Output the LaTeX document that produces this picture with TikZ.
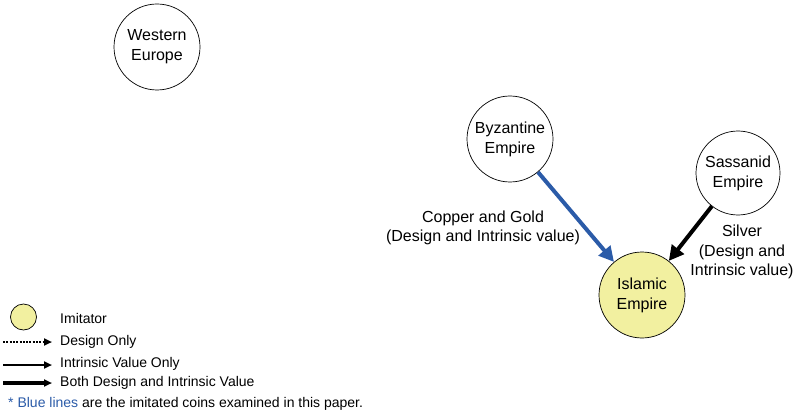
\documentclass[tikz,border=0pt]{standalone}
\usepackage{fontspec}
\setmainfont{Liberation Sans}
\usetikzlibrary{arrows.meta}
\definecolor{linkblue}{HTML}{2B5BA8}
\definecolor{imitfill}{HTML}{F2F0A0}
\tikzset{
  empire/.style={circle, draw=black, line width=0.7pt, minimum size=86pt, inner sep=0pt, align=center, font=\fontsize{16}{20}\selectfont},
  lbl/.style={align=center, font=\fontsize{16}{19.5}\selectfont},
  legtxt/.style={anchor=west, font=\fontsize{14}{16}\selectfont, inner sep=0pt},
  flow/.style={line width=4pt, -{Triangle[length=15pt, width=15pt]}},
  legarrow/.style={-{Triangle[length=8pt, width=7pt]}},
}
\begin{document}
\begin{tikzpicture}[x=1pt, y=-1pt]
\useasboundingbox (0,0) rectangle (797,414);
% empires
\node[empire] (we) at (157,47) {Western\\Europe};
\node[empire] (by) at (510,139) {Byzantine\\Empire};
\node[empire, minimum size=84pt] (sa) at (738,173) {Sassanid\\Empire};
\node[empire, fill=imitfill] (is) at (642,295) {Islamic\\Empire};
% coin flows
\draw[flow, draw=linkblue, fill=linkblue] (by) -- (is);
\draw[flow] (sa) -- (is);
\node[lbl] (cg) at (483,228) {Copper and Gold\\(Design and Intrinsic value)};
\node[lbl] (sv) at (742,252) {Silver\\(Design and\\Intrinsic value)};
% legend
\node[circle, draw=black, line width=0.7pt, fill=imitfill, minimum size=26pt, inner sep=0pt] (legc) at (23.5,317) {};
\node[legtxt] (legi) at (60,318) {Imitator};
\coordinate (d0) at (3,342); \coordinate (d1) at (52,342);
\coordinate (i0) at (3,365); \coordinate (i1) at (52,365);
\coordinate (b0) at (3,383); \coordinate (b1) at (52,383);
\draw[legarrow, line width=2.2pt, dash pattern=on 2pt off 1.3pt] (d0) -- (d1);
\draw[legarrow, line width=2.2pt] (i0) -- (i1);
\draw[legarrow, line width=4pt] (b0) -- (b1);
\node[legtxt] (legd) at (60,342) {Design Only};
\node[legtxt] (legv) at (60,364) {Intrinsic Value Only};
\node[legtxt] (legb) at (60,383) {Both Design and Intrinsic Value};
\node[legtxt] (note) at (8,404) {\textcolor{linkblue}{* Blue lines} are the imitated coins examined in this paper.};
\end{tikzpicture}
\end{document}
